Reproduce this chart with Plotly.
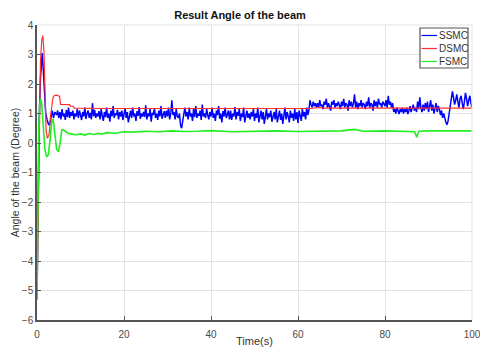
import numpy as np
import plotly.graph_objects as go

# ---------------- data ----------------
# transient phase (explicit sample times)
ssmc_t_tr = [0.0, 0.25, 0.5, 0.8, 1.0, 1.2, 1.4, 1.7, 2.0, 2.3, 2.6, 2.9, 3.2, 3.5, 3.8, 4.1]
ssmc_v_tr = [-5.3, -1.5, 0.8, 2.2, 2.8, 3.05, 2.6, 1.6, 1.0, 0.8, 0.65, 0.6, 0.9, 1.1, 0.85, 1.05]

# steady phase, sampled every 0.25 s from 4.5 s to 100 s
ssmc_v_ss = [
    0.95, 1.1, 0.85, 1.05, 0.8, 1.15, 0.9, 1.0, 0.78, 1.12, 0.88, 1.2, 0.85, 1.05, 0.92, 1.1, 0.8, 1.0, 0.9, 1.15,
    0.85, 1.1, 0.95, 0.78, 1.05, 0.9, 1.2, 0.82, 1.0, 1.1, 0.85, 1.02, 0.8, 1.35, 0.9, 1.12, 0.85, 1.0, 0.9, 1.08,
    0.8, 1.15, 0.92, 0.75, 1.05, 0.88, 1.2, 0.85, 1.0, 0.72, 1.1, 0.9, 1.25, 0.85, 1.0, 0.95, 1.12, 0.8, 1.05, 0.9,
    1.1, 0.78, 0.98, 1.18, 0.85, 1.05, 0.7, 0.95, 1.1, 0.85, 1.2, 0.9, 1.0, 0.75, 1.08, 0.92, 1.22, 0.82, 1.0, 0.9,
    1.05, 0.88, 1.28, 0.8, 1.0, 0.9, 1.15, 0.72, 1.02, 0.95, 1.18, 0.85, 1.0, 0.78, 1.1, 0.9, 1.25, 0.82, 0.98, 1.08,
    0.85, 1.1, 0.9, 1.2, 0.8, 1.0, 1.45, 0.95, 1.05, 0.8, 1.15, 0.9, 0.85, 1.0, 0.6, 0.5, 0.75, 1.0, 1.2, 0.9,
    1.05, 0.8, 1.2, 0.9, 1.0, 0.75, 1.15, 0.88, 1.25, 0.85, 1.0, 0.92, 1.1, 0.78, 1.3, 0.9, 1.0, 0.85, 1.15, 0.95,
    0.8, 1.05, 0.9, 1.2, 0.85, 1.0, 0.75, 1.1, 0.95, 1.25, 0.82, 1.0, 0.7, 1.08, 0.9, 1.2, 0.85, 0.95, 1.1, 0.8,
    1.1, 0.78, 1.0, 0.9, 1.22, 0.8, 1.05, 0.92, 1.15, 0.75, 1.0, 0.88, 1.2, 0.7, 0.95, 1.1, 0.85, 1.0, 0.8, 1.05,
    0.9, 1.15, 0.75, 1.0, 0.85, 1.2, 0.7, 0.95, 1.1, 0.8, 1.05, 0.65, 0.9, 1.15, 0.8, 1.0, 0.88, 1.1, 0.72, 0.95,
    1.05, 0.8, 1.15, 0.7, 0.95, 1.1, 0.78, 1.0, 0.65, 0.9, 1.2, 0.8, 1.05, 0.9, 0.7, 1.1, 0.85, 1.0, 0.75, 1.15,
    0.8, 1.05, 0.68, 1.1, 0.85, 0.75, 1.15, 0.9, 1.05, 0.8, 1.2, 0.95, 1.1, 1.45, 1.3, 1.2, 1.4, 1.25, 1.35, 1.2,
    1.35, 1.2, 1.45, 1.25, 1.3, 1.15, 1.4, 1.3, 1.5, 1.2, 1.35, 1.25, 1.1, 1.4, 1.3, 1.45, 1.2, 1.35, 1.25, 1.4,
    1.3, 1.15, 1.4, 1.25, 1.5, 1.2, 1.35, 1.3, 1.1, 1.45, 1.25, 1.4, 1.2, 1.35, 1.65, 1.2, 1.4, 1.15, 1.35, 1.25,
    1.45, 1.2, 1.35, 1.3, 1.15, 1.4, 1.25, 1.55, 1.2, 1.35, 1.3, 1.1, 1.45, 1.25, 1.4, 1.2, 1.5, 1.3, 1.35, 1.2,
    1.4, 1.3, 1.25, 1.45, 1.2, 1.6, 1.3, 1.4, 1.2, 1.35, 1.05, 1.15, 1.0, 1.2, 1.1, 0.98, 1.15, 1.05, 1.2, 1.0,
    1.15, 1.05, 1.2, 0.98, 1.1, 1.25, 1.05, 1.15, 1.3, 1.1, 1.2, 1.05, 1.4, 1.15, 1.55, 1.2, 1.05, 1.3, 1.1, 1.35,
    1.15, 1.4, 1.05, 1.25, 1.45, 1.1, 1.3, 1.0, 1.2, 1.35, 1.05, 1.25, 1.15, 0.95, 1.1, 0.85, 1.0, 0.8, 0.7, 0.62,
    0.75, 1.0, 1.3, 1.5, 1.75, 1.55, 1.3, 1.45, 1.65, 1.4, 1.2, 1.5, 1.6, 1.35, 1.15, 1.4, 1.7, 1.5, 1.25, 1.45,
    1.6, 1.35, 1.2,
]
ssmc_t_ss = [round(float(t), 2) for t in np.arange(4.5, 100.001, 0.25)]

dsmc_t = [0.0, 0.4, 0.8, 1.1, 1.35, 1.6, 1.9, 2.1, 2.4, 2.8, 3.1, 3.4, 3.7, 4.0, 4.6, 5.2, 5.4,
          7.5, 7.7, 8.3, 8.6, 15, 20, 30, 40, 50, 60, 63, 65, 66, 70, 80, 90, 100]
dsmc_v = [-5.3, -0.5, 2.8, 3.5, 3.64, 3.1, 1.4, 0.4, 0.16, 0.3, 0.9, 1.35, 1.55, 1.61, 1.62, 1.58, 1.31,
          1.30, 1.25, 1.24, 1.18, 1.17, 1.17, 1.17, 1.16, 1.17, 1.16, 1.17, 1.21, 1.18, 1.18, 1.18, 1.18, 1.18]

fsmc_t = [0.0, 0.2, 0.4, 0.6, 0.85, 1.1, 1.4, 1.8, 2.2, 2.6, 3.0, 3.4, 3.7, 4.1, 4.5, 4.9, 5.3, 5.7, 6.1,
          6.6, 7.2, 8.0, 9, 10, 11, 12, 13, 14, 15, 16, 18, 20, 22, 25, 28, 31, 34, 37, 40, 45, 50,
          55, 60, 65, 70, 73, 75, 80, 85, 86.8, 87.3, 87.8, 90, 95, 100]
fsmc_v = [-5.3, -2.0, 0.5, 1.3, 1.5, 1.3, 0.6, -0.2, -0.47, -0.4, 0.1, 0.75, 0.82, 0.3, -0.2, -0.3, 0.0, 0.45, 0.45,
          0.38, 0.33, 0.3, 0.28, 0.31, 0.27, 0.32, 0.29, 0.33, 0.3, 0.35, 0.33, 0.38, 0.37, 0.4, 0.38, 0.41, 0.39, 0.4, 0.42, 0.38, 0.4,
          0.41, 0.39, 0.4, 0.41, 0.46, 0.4, 0.41, 0.4, 0.38, 0.2, 0.4, 0.41, 0.4, 0.41]

x_ticks = [0, 20, 40, 60, 80, 100]
y_ticks = [-6, -5, -4, -3, -2, -1, 0, 1, 2, 3, 4]

series = [
    ("SSMC", ssmc_t_tr + ssmc_t_ss, ssmc_v_tr + ssmc_v_ss, "#0000FF", 1.5),
    ("DSMC", dsmc_t, dsmc_v, "#FF3030", 1.2),
    ("FSMC", fsmc_t, fsmc_v, "#22EE22", 1.6),
]

FONT = "Liberation Sans, Arial, sans-serif"

fig = go.Figure()
for name, t, v, c, w in series:
    fig.add_trace(go.Scatter(x=t, y=v, mode="lines", name=name,
                             line=dict(color=c, width=w), showlegend=False))

# layout geometry (pixels)
W, H = 480, 347
L, R, T, B = 37, 8, 25, 27
pw, ph = W - L - R, H - T - B

def px_x(p):
    return (p - L) / pw

def px_y(p):
    return (H - B - p) / ph

axis_common = dict(
    showgrid=True, gridcolor="#e3e3e3", gridwidth=1,
    showline=True, linecolor="#555555", linewidth=1.5,
    ticks="inside", ticklen=4, tickcolor="#555555", tickwidth=1.2,
    tickfont=dict(family=FONT, size=10, color="#4a4a4a"),
    zeroline=False, mirror=False, ticklabeloverflow="allow",
    automargin=False,
)

fig.update_layout(
    width=W, height=H,
    margin=dict(l=L, r=R, t=T, b=B),
    paper_bgcolor="white", plot_bgcolor="white",
    title=dict(text="<b>Result Angle of the beam</b>", x=0.5, xanchor="center",
               y=1 - 15 / H, yanchor="middle",
               font=dict(family=FONT, size=11, color="#111111")),
    xaxis=dict(range=[0, 100], tickvals=x_ticks, ticklabelstandoff=4,
               title=dict(text="Time(s)", standoff=4,
                          font=dict(family=FONT, size=11, color="#333333")),
               **axis_common),
    yaxis=dict(range=[-6, 4], tickvals=y_ticks,
               title=dict(text="Angle of the beam (Degree)", standoff=0,
                          font=dict(family=FONT, size=10.5, color="#333333")),
               **axis_common),
)

# light frame on top/right edges (grid lines at range ends)
fig.add_shape(type="line", xref="paper", yref="paper", x0=0, x1=1, y0=1, y1=1,
              line=dict(color="#e3e3e3", width=1))
fig.add_shape(type="line", xref="paper", yref="paper", x0=1, x1=1, y0=0, y1=1,
              line=dict(color="#e3e3e3", width=1))

# legend box (drawn manually to match the compact MATLAB legend)
bx0, bx1, by0, by1 = 420, 468, 28, 68
fig.add_shape(type="rect", xref="paper", yref="paper",
              x0=px_x(bx0), x1=px_x(bx1), y0=px_y(by1), y1=px_y(by0),
              line=dict(color="#555555", width=1.2), fillcolor="white", layer="above")
rows = [35.5, 48.5, 61.5]
for (name, _, _, c, w), ry in zip(series, rows):
    fig.add_shape(type="line", xref="paper", yref="paper",
                  x0=px_x(421.5), x1=px_x(437), y0=px_y(ry), y1=px_y(ry),
                  line=dict(color=c, width=1.2), layer="above")
    fig.add_annotation(text=name, xref="paper", yref="paper",
                       x=px_x(437), y=px_y(ry), xanchor="left", yanchor="middle",
                       showarrow=False, font=dict(family=FONT, size=10, color="#333333"))

fig.write_html("out.html")
